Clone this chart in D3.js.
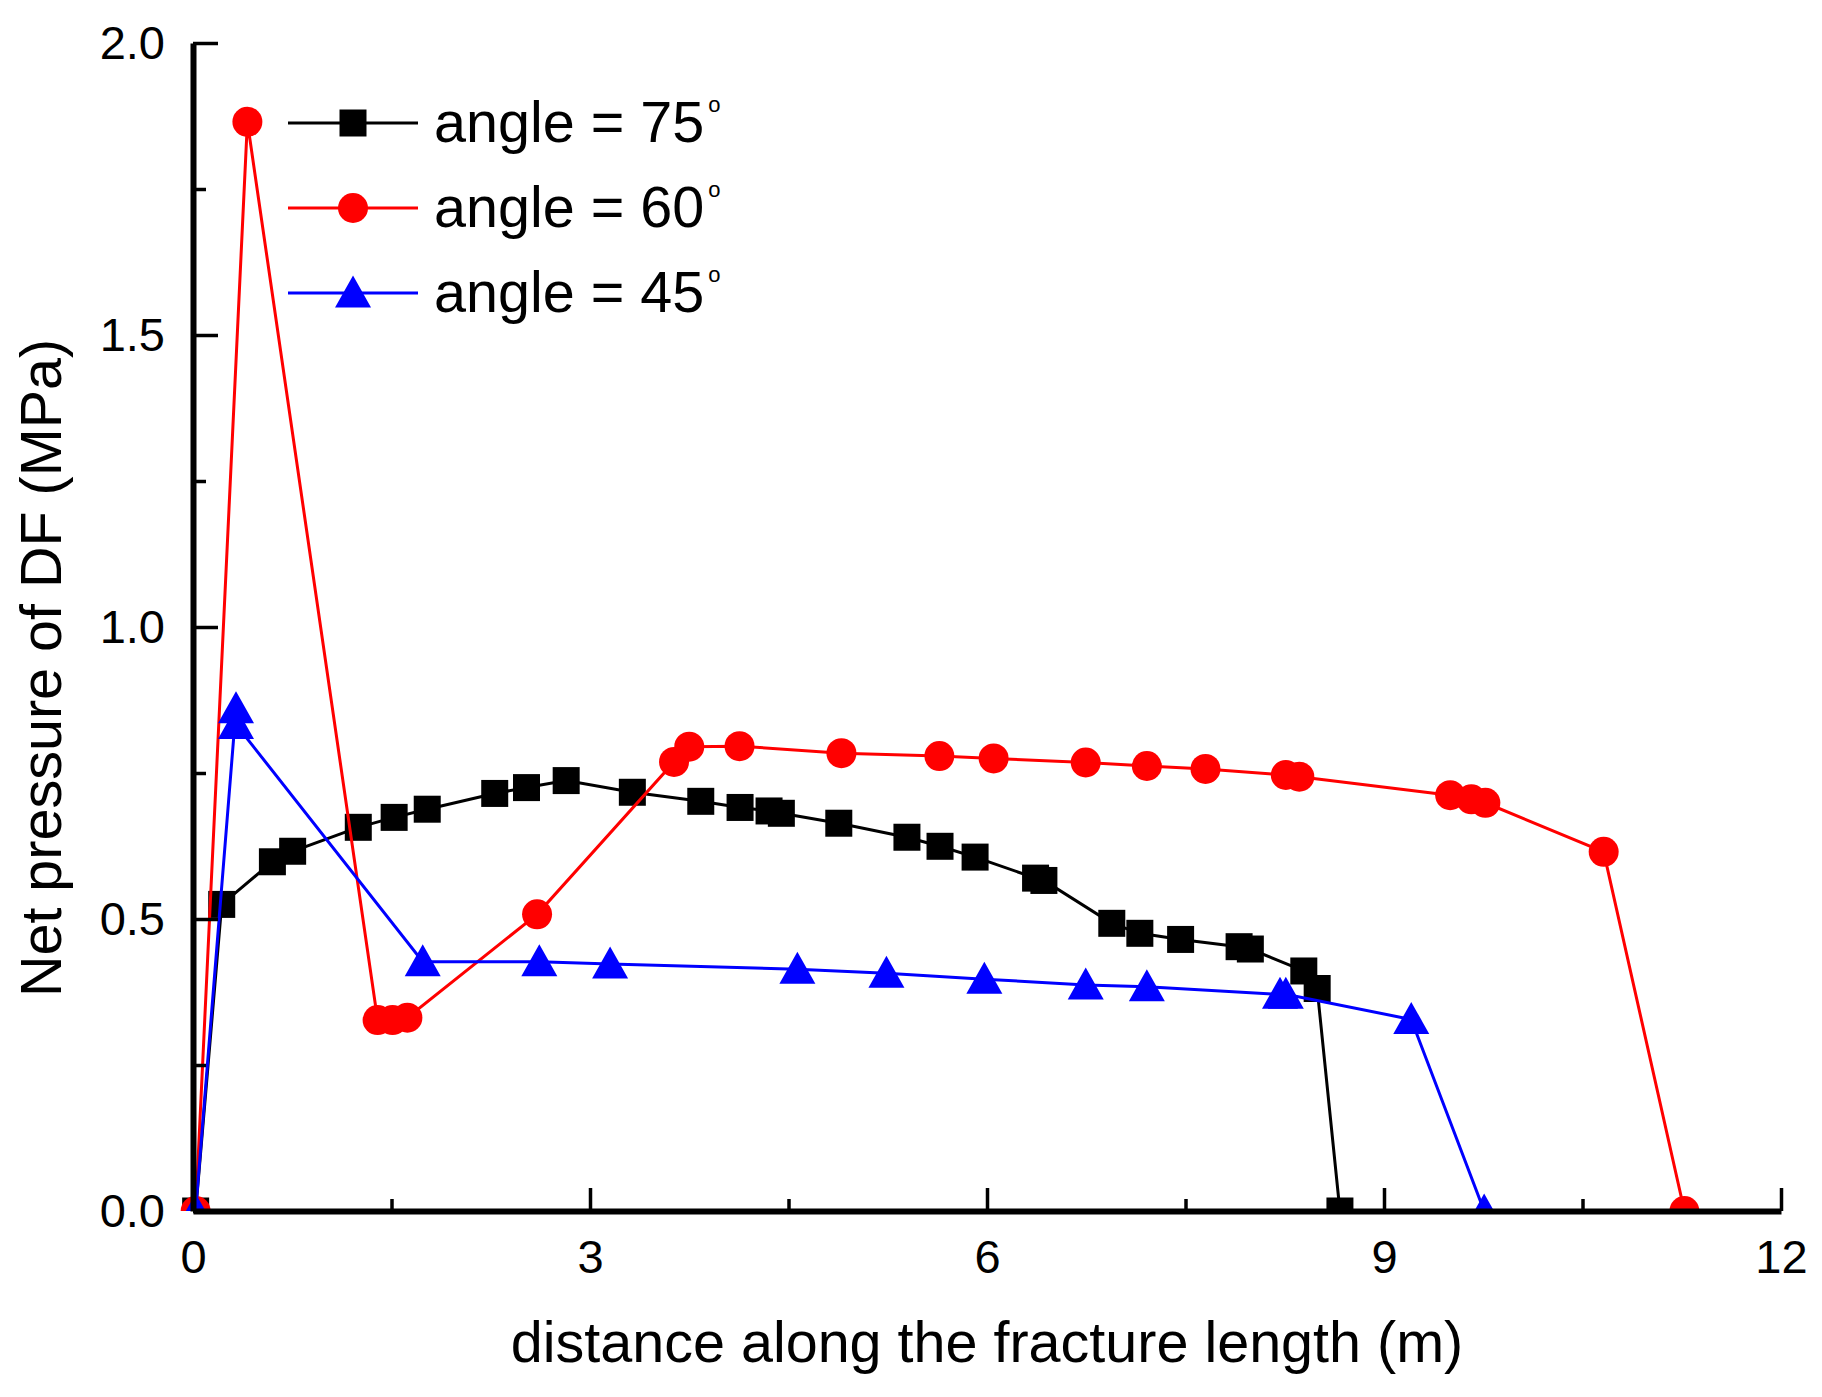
<!DOCTYPE html>
<html>
<head>
<meta charset="utf-8">
<script src="https://cdn.jsdelivr.net/npm/d3@7"></script>
<style>
  html, body { margin: 0; padding: 0; background: #fff; }
  svg { display: block; font-family: "Liberation Sans", Arial, sans-serif; }
</style>
</head>
<body>
<svg id="chart" width="1822" height="1397"></svg>
<script>
// Net pressure of DF along the fracture, three approach angles

// angle = 75 (black squares)
const angle75X = [0.02, 0.217, 0.60, 0.753, 1.249, 1.52, 1.77, 2.28, 2.52, 2.82, 3.32, 3.837, 4.134, 4.353, 4.446, 4.88, 5.395, 5.645, 5.91, 6.367, 6.43, 6.943, 7.155, 7.463, 7.905, 7.99, 8.394, 8.495, 8.667];
const angle75Y = [0, 0.525, 0.598, 0.616, 0.657, 0.674, 0.688, 0.715, 0.725, 0.737, 0.717, 0.7015, 0.691, 0.685, 0.681, 0.664, 0.640, 0.6245, 0.606, 0.570, 0.566, 0.4926, 0.4755, 0.465, 0.4526, 0.4486, 0.411, 0.381, 0];

// angle = 60 (red circles)
const angle60X = [0.02, 0.411, 1.395, 1.508, 1.62, 2.60, 3.635, 3.75, 4.13, 4.90, 5.64, 6.05, 6.746, 7.208, 7.651, 8.258, 8.36, 9.50, 9.66, 9.766, 10.66, 11.27];
const angle60Y = [0, 1.865, 0.327, 0.327, 0.331, 0.508, 0.769, 0.795, 0.796, 0.784, 0.779, 0.775, 0.768, 0.762, 0.757, 0.7466, 0.7437, 0.712, 0.705, 0.699, 0.615, 0];

// angle = 45 (blue triangles)
const angle45X = [0.02, 0.325, 0.325, 1.736, 2.617, 3.152, 4.567, 5.24, 5.98, 6.746, 7.208, 8.214, 8.258, 9.206, 9.757];
const angle45Y = [0, 0.860, 0.833, 0.427, 0.427, 0.423, 0.414, 0.407, 0.397, 0.387, 0.384, 0.371, 0.371, 0.328, 0];

// Axis ticks
const xMajorTicks = [0, 3, 6, 9, 12];
const xMinorTicks = [1.5, 4.5, 7.5, 10.5];
const yMajorTicks = [0, 0.5, 1.0, 1.5, 2.0];
const yMinorTicks = [0.25, 0.75, 1.25, 1.75];

const seriesNames = ["75", "60", "45"];
const seriesColors = ["#000000", "#ff0000", "#0000ff"];
const seriesShapes = ["square", "circle", "triangle"];

const svg = d3.select("#chart");

// Scales
const x = d3.scaleLinear().domain([0, 12]).range([193, 1781]);
const y = d3.scaleLinear().domain([0, 2]).range([1211, 43]);

// Marker shapes
function markerPath(shape) {
    if (shape === "square") return "M-13.5,-13.5H13.5V13.5H-13.5Z";
    if (shape === "circle") return d3.arc()({ innerRadius: 0, outerRadius: 15, startAngle: 0, endAngle: 2 * Math.PI });
    return "M0,-17.5L18,14.5L-18,14.5Z";
}

// Clip to plot area
svg.append("defs").append("clipPath")
    .attr("id", "plot-clip")
    .append("rect")
    .attr("x", x(0) - 20)
    .attr("y", y(2) - 20)
    .attr("width", x(12) - x(0) + 40)
    .attr("height", y(0) - y(2) + 20);

const plot = svg.append("g").attr("clip-path", "url(#plot-clip)");

const allSeries = [
    { xs: angle75X, ys: angle75Y },
    { xs: angle60X, ys: angle60Y },
    { xs: angle45X, ys: angle45Y }
];

const line = d3.line().x(d => x(d[0])).y(d => y(d[1]));

allSeries.forEach((s, i) => {
    const pts = s.xs.map((v, j) => [v, s.ys[j]]);
    const g = plot.append("g");
    g.append("path")
        .datum(pts)
        .attr("d", line)
        .attr("fill", "none")
        .attr("stroke", seriesColors[i])
        .attr("stroke-width", 3);
    g.selectAll(".marker")
        .data(pts)
        .join("path")
        .attr("class", "marker")
        .attr("transform", d => `translate(${x(d[0])},${y(d[1])})`)
        .attr("d", markerPath(seriesShapes[i]))
        .attr("fill", seriesColors[i]);
});

// Axes (ticks point inward)
svg.append("g")
    .attr("transform", `translate(${x(0)},0)`)
    .call(d3.axisLeft(y).tickValues(yMajorTicks).tickSizeInner(-25).tickSizeOuter(0).tickPadding(28).tickFormat(d3.format(".1f")));
svg.append("g")
    .attr("transform", `translate(${x(0)},0)`)
    .call(d3.axisLeft(y).tickValues(yMinorTicks).tickSizeInner(-13).tickSizeOuter(0).tickFormat(""))
    .call(g => g.select(".domain").remove());

svg.append("g")
    .attr("transform", `translate(0,${y(0)})`)
    .call(d3.axisBottom(x).tickValues(xMajorTicks).tickSizeInner(-23).tickSizeOuter(0).tickPadding(29).tickFormat(d3.format("d")));
svg.append("g")
    .attr("transform", `translate(0,${y(0)})`)
    .call(d3.axisBottom(x).tickValues(xMinorTicks).tickSizeInner(-12).tickSizeOuter(0).tickFormat(""))
    .call(g => g.select(".domain").remove());

svg.selectAll(".domain").attr("stroke", "#000").attr("stroke-width", 6);
svg.selectAll(".tick line").attr("stroke", "#000").attr("stroke-width", 3.5);
svg.selectAll(".tick text")
    .attr("fill", "#000")
    .style("font-family", "'Liberation Sans', Arial, sans-serif")
    .style("font-size", "47px");

// Axis titles
svg.append("text")
    .attr("x", (x(0) + x(12)) / 2)
    .attr("y", 1362)
    .attr("text-anchor", "middle")
    .style("font-size", "57.5px")
    .text("distance along the fracture length (m)");

svg.append("text")
    .attr("transform", "translate(61,668) rotate(-90)")
    .attr("text-anchor", "middle")
    .style("font-size", "57.5px")
    .text("Net pressure of DF (MPa)");

// Legend
const legendY = [123, 208, 293];
const legend = svg.append("g");
seriesNames.forEach((name, i) => {
    const row = legend.append("g").attr("transform", `translate(0,${legendY[i]})`);
    row.append("line")
        .attr("x1", 288).attr("x2", 418)
        .attr("stroke", seriesColors[i]).attr("stroke-width", 3);
    row.append("path")
        .attr("transform", "translate(353,0)")
        .attr("d", markerPath(seriesShapes[i]))
        .attr("fill", seriesColors[i]);
    const t = row.append("text")
        .attr("x", 434)
        .attr("y", 19)
        .style("font-size", "57.5px");
    t.append("tspan").text(`angle = ${name}`);
    t.append("tspan")
        .attr("dx", 4)
        .attr("dy", -30)
        .style("font-size", "22px")
        .text("o");
});
</script>
</body>
</html>
